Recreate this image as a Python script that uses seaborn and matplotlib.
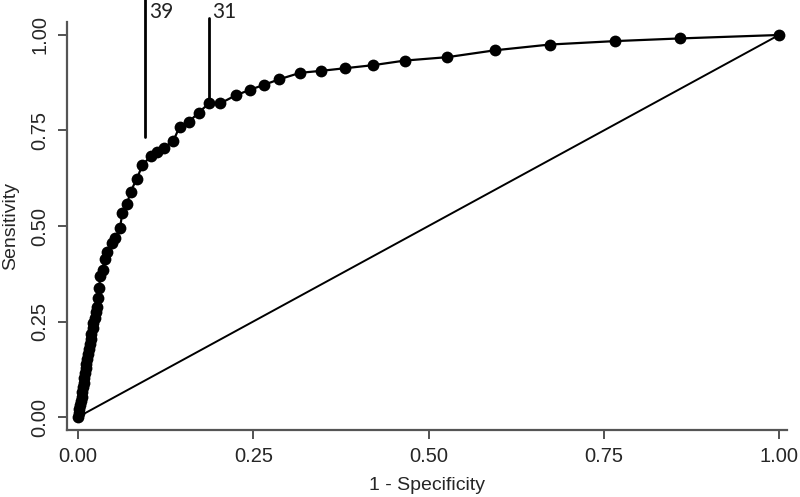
import numpy as np
import pandas as pd
import seaborn as sns
import matplotlib
matplotlib.use("Agg")
import matplotlib.pyplot as plt

# ROC points (1 - specificity, sensitivity)
fpr = [0.000, 0.001, 0.002, 0.003, 0.004, 0.005, 0.006, 0.007, 0.008, 0.009,
       0.010, 0.011, 0.012, 0.013, 0.014, 0.016, 0.017, 0.018, 0.019, 0.021,
       0.022, 0.024, 0.025, 0.027, 0.028, 0.030, 0.032, 0.035, 0.038, 0.042,
       0.049, 0.053, 0.060, 0.063, 0.070, 0.075, 0.084, 0.092, 0.104, 0.112,
       0.123, 0.136, 0.145, 0.158, 0.172, 0.187, 0.203, 0.225, 0.246, 0.266,
       0.287, 0.317, 0.346, 0.381, 0.421, 0.466, 0.527, 0.595, 0.673, 0.766,
       0.859, 1.000]
tpr = [0.000, 0.010, 0.020, 0.031, 0.042, 0.053, 0.065, 0.078, 0.090, 0.102,
       0.115, 0.128, 0.140, 0.152, 0.165, 0.178, 0.192, 0.205, 0.218, 0.232,
       0.246, 0.260, 0.274, 0.289, 0.311, 0.337, 0.370, 0.385, 0.414, 0.433,
       0.456, 0.468, 0.494, 0.533, 0.558, 0.590, 0.624, 0.660, 0.683, 0.693,
       0.705, 0.723, 0.760, 0.772, 0.797, 0.821, 0.821, 0.842, 0.857, 0.870,
       0.884, 0.901, 0.906, 0.913, 0.921, 0.933, 0.942, 0.960, 0.975, 0.984,
       0.991, 1.000]

# reference diagonal
diag = [0.0, 1.0]

# cut-off markers drawn above the curve
cut_labels = ["39", "31"]
cut_x = [0.096, 0.187]
cut_bottom = [0.733, 0.821]
cut_top = [1.095, 1.045]
label_y = 1.045

ticks = [0.00, 0.25, 0.50, 0.75, 1.00]
tick_labels = ["0.00", "0.25", "0.50", "0.75", "1.00"]

sns.set_style("ticks")
plt.rcParams['font.family'] = ['Liberation Sans', 'DejaVu Sans']

df = pd.DataFrame({"fpr": fpr, "tpr": tpr})

fig = plt.figure(figsize=(8, 4.97), dpi=100)
ax = fig.add_axes([67 / 800, 67 / 497, 720 / 800, 408 / 497])

sns.lineplot(x=diag, y=diag, color="black", linewidth=1.4, ax=ax)
sns.lineplot(data=df, x="fpr", y="tpr", color="black", linewidth=1.6,
             marker="o", markersize=8.5, markeredgewidth=0,
             sort=False, estimator=None, ax=ax)

for lab, cx, cb, ct in zip(cut_labels, cut_x, cut_bottom, cut_top):
    ax.plot([cx, cx], [cb, ct], color="black", linewidth=2, clip_on=False)
    ax.text(cx + 0.005, label_y, lab, fontsize=15, family=['Lato', 'DejaVu Sans'],
            color="#222222", ha="left", va="baseline", clip_on=False)

ax.set_xlim(-0.0157, 1.0114)
ax.set_ylim(-0.034, 1.034)
ax.set_xticks(ticks)
ax.set_xticklabels(tick_labels)
ax.set_yticks(ticks)
ax.set_yticklabels(tick_labels, rotation=90, va="center")

ax.set_xlabel("1 - Specificity", fontsize=14, labelpad=8)
ax.set_ylabel("Sensitivity", fontsize=14, labelpad=8)
ax.tick_params(axis="both", labelsize=14.5, length=6.5, width=1.3,
               color="#444444", pad=6)

for side in ["top", "right"]:
    ax.spines[side].set_visible(False)
for side in ["left", "bottom"]:
    ax.spines[side].set_color("#555555")
    ax.spines[side].set_linewidth(1.6)

fig.savefig("out.png", dpi=100, facecolor="white")
